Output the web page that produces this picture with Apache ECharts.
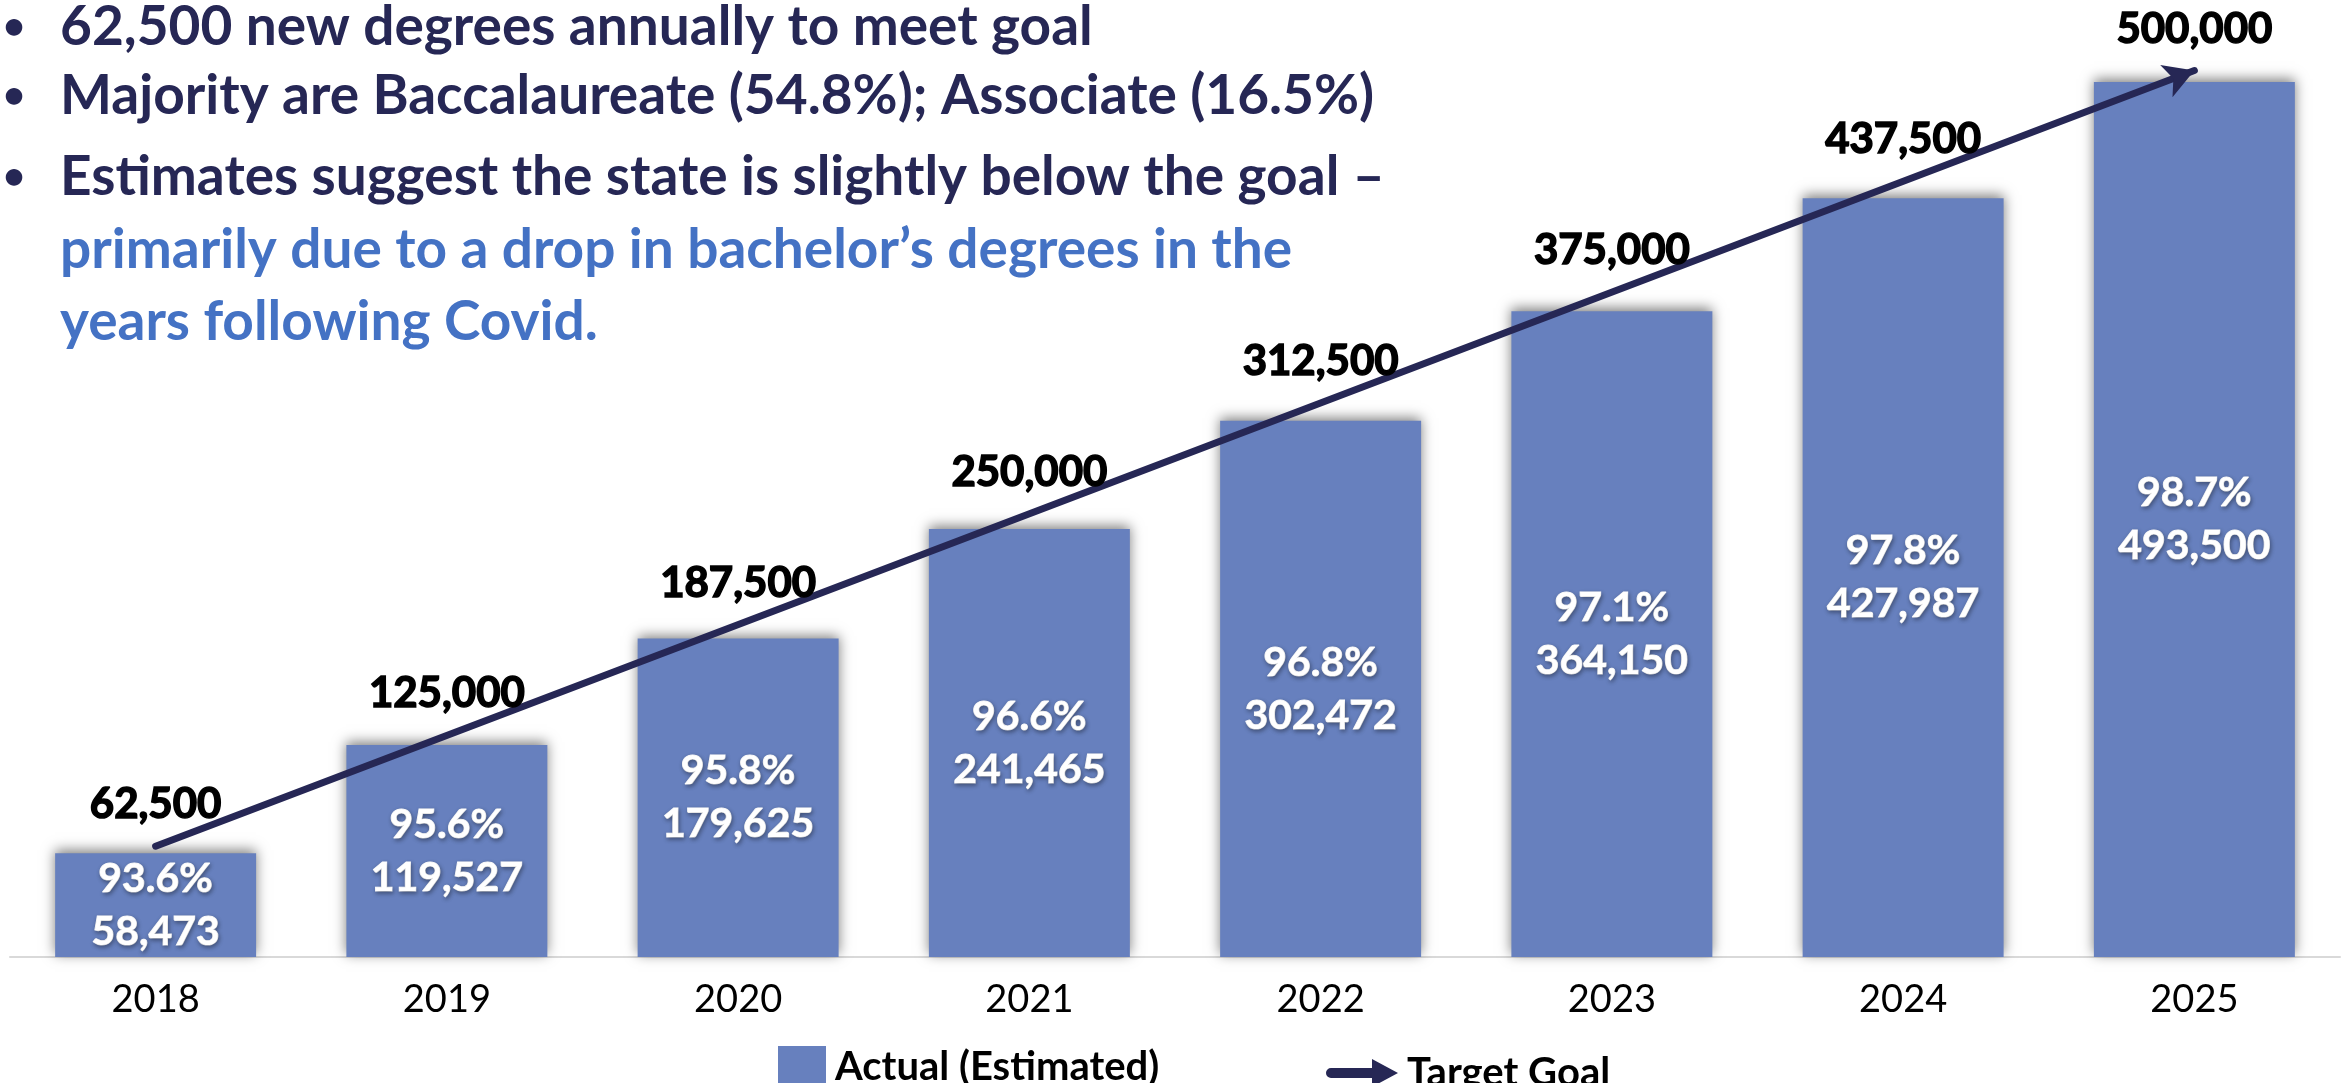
<!DOCTYPE html>
<html>
<head>
<meta charset="utf-8">
<title>Degrees vs goal</title>
<script src="https://cdn.jsdelivr.net/npm/echarts@6/dist/echarts.min.js"></script>
<style>
  html, body { margin: 0; padding: 0; background: #fff; }
  #main { width: 2348px; height: 1083px; }
</style>
</head>
<body>
<div id="main"></div>
<script>
// data
var years = ['2018', '2019', '2020', '2021', '2022', '2023', '2024', '2025'];
var actual = [58473, 119527, 179625, 241465, 302472, 364150, 427987, 493500];
var pctOfGoal = ['93.6', '95.6', '95.8', '96.6', '96.8', '97.1', '97.8', '98.7'];
var goal = [62500, 125000, 187500, 250000, 312500, 375000, 437500, 500000];

var notes = [
    { text: '62,500 new degrees annually to meet goal', y: 24, bullet: true, color: '#262755' },
    { text: 'Majority are Baccalaureate (54.8%); Associate (16.5%)', y: 93, bullet: true, color: '#262755' },
    { text: 'Estimates suggest the state is slightly below the goal \u2013', y: 174, bullet: true, color: '#262755' },
    { text: 'primarily due to a drop in bachelor\u2019s degrees in the', y: 247, bullet: false, color: '#4472C4' },
    { text: 'years following Covid.', y: 319, bullet: false, color: '#4472C4' }
];

var FONT = 'Lato';
var barColor = '#6780BE';
var navy = '#262755';

function fmt(v) {
    return v.toLocaleString('en-US');
}

var chart = echarts.init(document.getElementById('main'));

var graphics = [];
notes.forEach(function (n) {
    if (n.bullet) {
        graphics.push({
            type: 'text', x: 3, y: n.y + 3,
            style: { text: '\u2022', fill: navy, font: '700 38px ' + FONT, verticalAlign: 'middle' }
        });
    }
    graphics.push({
        type: 'text', x: 60, y: n.y + 3,
        style: { text: n.text, fill: n.color, font: '700 55px ' + FONT, verticalAlign: 'middle' }
    });
});

option = {
    animation: false,
    backgroundColor: '#fff',
    textStyle: { fontFamily: FONT },
    grid: { left: 10, right: 8, top: 70.5, bottom: 126 },
    legend: [{
        left: 773, top: 1041,
        itemWidth: 48, itemHeight: 42,
        data: [{ name: 'Actual (Estimated)', icon: 'rect' }],
        textStyle: { fontFamily: FONT, fontWeight: 'bold', fontSize: 40, color: '#000', padding: [0, 0, 0, 4] }
    }, {
        left: 1321, top: 1048,
        itemWidth: 72, itemHeight: 28,
        data: [{
            name: 'Target Goal',
            icon: 'path://M5,9 L46,9 L46,0 L72,14 L46,28 L46,19 L5,19 A5,5 0 0 1 5,9 Z',
            itemStyle: { color: navy }
        }],
        textStyle: { fontFamily: FONT, fontWeight: 'bold', fontSize: 40, color: '#000', padding: [0, 0, 0, 4] }
    }],
    xAxis: {
        type: 'category',
        data: years,
        axisLine: { lineStyle: { color: '#D9D9D9', width: 2 } },
        axisTick: { show: false },
        axisLabel: { fontFamily: FONT, fontSize: 38, color: '#000', margin: 24 }
    },
    yAxis: {
        type: 'value',
        min: 0,
        max: 500000,
        show: false,
        splitLine: { show: false }
    },
    series: [{
        name: 'Actual (Estimated)',
        type: 'bar',
        data: actual,
        barWidth: '69%',
        itemStyle: {
            color: barColor,
            shadowColor: 'rgba(0,0,0,0.5)',
            shadowBlur: 12,
            shadowOffsetY: -3
        },
        label: {
            show: true,
            position: 'inside',
            formatter: function (p) {
                return pctOfGoal[p.dataIndex] + '%\n' + fmt(p.value);
            },
            fontFamily: FONT,
            fontWeight: 'bold',
            fontSize: 41,
            lineHeight: 53,
            color: '#fff',
            textBorderColor: '#fff',
            textBorderWidth: 1,
            textShadowColor: 'rgba(0,0,0,0.35)',
            textShadowBlur: 4,
            textShadowOffsetX: 1,
            textShadowOffsetY: 2
        }
    }, {
        name: 'Target Goal',
        type: 'line',
        data: goal,
        color: navy,
        showSymbol: true,
        symbol: 'circle',
        symbolSize: 1,
        itemStyle: { color: 'rgba(0,0,0,0)' },
        lineStyle: { width: 0, opacity: 0 },
        label: {
            show: true,
            position: 'top',
            distance: 20,
            formatter: function (p) { return fmt(p.value); },
            fontFamily: FONT,
            fontWeight: 'bold',
            fontSize: 42,
            color: '#000',
            textBorderColor: '#000',
            textBorderWidth: 1.5
        },
        markLine: {
            silent: true,
            symbol: ['none', 'arrow'],
            symbolSize: [26, 30],
            label: { show: false },
            lineStyle: { color: navy, width: 7, type: 'solid', cap: 'round' },
            data: [[
                { coord: [0, goal[0]] },
                { coord: [years.length - 1, goal[goal.length - 1]] }
            ]]
        },
        z: 5
    }],
    graphic: graphics
};
chart.setOption(option);
</script>
</body>
</html>
